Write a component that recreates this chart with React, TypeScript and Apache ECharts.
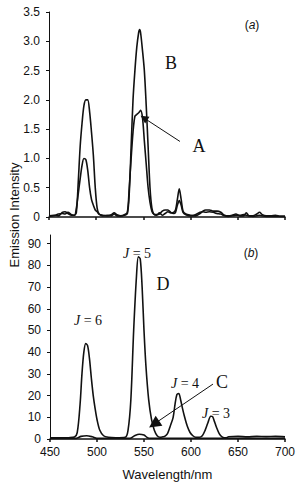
import React, { useEffect, useRef } from "react";
import * as echarts from "echarts";

// ---- Panel (a) data ----
const topWavelength = [450,455,460,464,467,470,474,477,479,481,483,485,487,489,491,493,495,497,499,501,503,507,512,516,519,522,526,530,533,535,537,539,541,543,545,546,547,549,551,553,555,557,559,561,564,567,570,573,576,579,582,584,586,588,590,592,595,600,605,610,613,616,620,624,628,632,636,640,644,648,652,656,659,662,666,670,673,676,680,685,690,695,700];
const curveB = [0.02,0.03,0.02,0.08,0.09,0.06,0.03,0.03,0.08,0.6,1.2,1.6,1.9,2.0,2.0,1.8,1.45,1.05,0.5,0.15,0.05,0.03,0.02,0.04,0.07,0.04,0.02,0.03,0.06,0.4,1.2,2.0,2.5,2.9,3.15,3.2,3.15,2.85,2.5,1.9,1.2,0.5,0.15,0.05,0.03,0.07,0.03,0.06,0.09,0.07,0.08,0.12,0.3,0.48,0.3,0.1,0.05,0.03,0.02,0.06,0.1,0.12,0.12,0.1,0.1,0.08,0.03,0.02,0.03,0.05,0.02,0.02,0.07,0.02,0.02,0.05,0.08,0.04,0.02,0.02,0.03,0.01,0.01];
const curveA = [0.01,0.02,0.05,0.06,0.05,0.08,0.04,0.03,0.15,0.4,0.65,0.88,1.0,0.98,0.8,0.5,0.3,0.2,0.12,0.09,0.05,0.02,0.03,0.02,0.05,0.02,0.02,0.04,0.08,0.5,1.0,1.45,1.72,1.75,1.78,1.8,1.82,1.7,1.3,0.9,0.5,0.25,0.1,0.05,0.04,0.05,0.1,0.12,0.12,0.08,0.06,0.08,0.2,0.28,0.2,0.08,0.04,0.02,0.04,0.08,0.09,0.08,0.09,0.08,0.06,0.05,0.02,0.01,0.02,0.03,0.03,0.04,0.03,0.02,0.01,0.02,0.03,0.02,0.01,0.01,0.01,0.01,0.01];
const topTicks = [0, 0.5, 1.0, 1.5, 2.0, 2.5, 3.0, 3.5];

// ---- Panel (b) data ----
const dWavelength = [450,460,470,476,479,482,484,486,488,490,492,494,496,498,500,503,507,512,520,530,533,536,539,542,544,546,548,550,552,555,558,561,564,567,570,572,575,578,581,583,585,587,589,591,593,596,599,602,605,609,612,615,618,621,623,625,627,630,633,637,640,650,660,670,680,690,700];
const dIntensity = [0.5,0.5,0.6,0.9,3,16,30,40,44,43,37,28,20,14,9,4,1.5,0.8,0.6,0.8,4,18,50,75,84,83,70,50,34,18,9,4,1.5,0.8,1,1.2,2.5,6,10,16,20.5,21,18,14,10.5,6,3,1.5,0.8,0.8,1.5,4,7.5,10.5,10.3,8,5.5,2.5,1,0.5,1,1.2,1,1.2,1.1,1.2,1];
const cWavelength = [450,478,483,489,495,500,535,540,545,550,555,700];
const cIntensity = [0.3,0.3,1.2,1.5,1.0,0.3,0.3,1.5,2.2,1.8,0.4,0.3];
const bottomTicks = [0, 10, 20, 30, 40, 50, 60, 70, 80, 90];

const pairs = (xs: number[], ys: number[]) => xs.map((x, i) => [x, ys[i]]);

export default function App() {
  const ref = useRef<HTMLDivElement>(null);
  useEffect(() => {
    if (!ref.current) return;
    const chart = echarts.init(ref.current, null, { renderer: "svg" });
    const sans = "Liberation Sans";
    const serif = "Liberation Serif";
    const ink = "#111";
    const lineStyle = { color: ink, width: 1.6 };
    const xAxisBase = {
      type: "value" as const,
      min: 450,
      max: 700,
      interval: 50,
      splitLine: { show: false },
      axisLine: { lineStyle: { color: ink, width: 1.5 } },
      axisTick: { show: true, length: 3, lineStyle: { color: ink, width: 1.5 } },
    };
    const yAxisBase = {
      type: "value" as const,
      splitLine: { show: false },
      axisLine: { show: true, lineStyle: { color: ink, width: 1 } },
      axisTick: { show: true, length: 3, lineStyle: { color: ink } },
      axisLabel: { color: ink, fontFamily: sans, fontSize: 12, margin: 9 },
    };
    const txt = (x: number, y: number, text: string, font: string) => ({
      type: "text",
      x,
      y,
      style: { text, font, fill: ink, align: "center", verticalAlign: "middle" },
    });
    const jRich = {
      rich: {
        j: { fontFamily: serif, fontStyle: "italic", fontSize: 14, color: ink },
        n: { fontFamily: serif, fontSize: 14, color: ink },
      },
    };
    const abRich = {
      rich: {
        n: { fontFamily: sans, fontSize: 12, color: ink },
        i: { fontFamily: sans, fontSize: 12, fontStyle: "italic", color: ink },
      },
    };
    const jText = (x: number, y: number, n: number) => ({
      type: "text",
      x,
      y,
      style: { text: `{j|J}{n| = ${n}}`, align: "center", verticalAlign: "middle", fill: ink, ...jRich },
    });
    chart.setOption({
      animation: false,
      grid: [
        { left: 49, top: 12, width: 236, height: 205 },
        { left: 50, top: 235, width: 235, height: 204 },
      ],
      xAxis: [
        { ...xAxisBase, gridIndex: 0, axisLabel: { show: false } },
        {
          ...xAxisBase,
          gridIndex: 1,
          axisLabel: { color: ink, fontFamily: sans, fontSize: 12, margin: 7 },
          name: "Wavelength/nm",
          nameLocation: "middle",
          nameGap: 29,
          nameTextStyle: { color: ink, fontFamily: sans, fontSize: 13 },
        },
      ],
      yAxis: [
        {
          ...yAxisBase,
          gridIndex: 0,
          min: 0,
          max: 3.5,
          interval: 0.5,
          axisLabel: {
            ...yAxisBase.axisLabel,
            customValues: topTicks,
            formatter: (v: number) => (v === 0 ? "0" : v.toFixed(1)),
          },
          axisTick: { ...yAxisBase.axisTick, customValues: topTicks },
        },
        {
          ...yAxisBase,
          gridIndex: 1,
          min: 0,
          max: 94,
          interval: 10,
          axisLabel: { ...yAxisBase.axisLabel, customValues: bottomTicks },
          axisTick: { ...yAxisBase.axisTick, customValues: bottomTicks },
        },
      ],
      series: [
        {
          name: "B",
          type: "line",
          xAxisIndex: 0,
          yAxisIndex: 0,
          data: pairs(topWavelength, curveB),
          showSymbol: false,
          smooth: 0.3,
          lineStyle,
          silent: true,
        },
        {
          name: "A",
          type: "line",
          xAxisIndex: 0,
          yAxisIndex: 0,
          data: pairs(topWavelength, curveA),
          showSymbol: false,
          smooth: 0.3,
          lineStyle,
          silent: true,
          markLine: {
            silent: true,
            symbol: ["none", "triangle"],
            symbolSize: 8,
            label: { show: false },
            lineStyle: { color: ink, width: 1, type: "solid" },
            data: [[{ coord: [588.7, 1.29] }, { coord: [550.6, 1.69] }]],
          },
        },
        {
          name: "D",
          type: "line",
          xAxisIndex: 1,
          yAxisIndex: 1,
          data: pairs(dWavelength, dIntensity),
          showSymbol: false,
          smooth: 0.3,
          lineStyle,
          silent: true,
        },
        {
          name: "C",
          type: "line",
          xAxisIndex: 1,
          yAxisIndex: 1,
          data: pairs(cWavelength, cIntensity),
          showSymbol: false,
          smooth: 0.3,
          lineStyle,
          silent: true,
          markLine: {
            silent: true,
            symbol: ["none", "triangle"],
            symbolSize: 12,
            label: { show: false },
            lineStyle: { color: ink, width: 1, type: "solid" },
            data: [[{ coord: [623.4, 25.3] }, { coord: [560.7, 6.9] }]],
          },
        },
      ],
      graphic: [
        { type: "text", x: 252, y: 25, style: { text: "{n|(}{i|a}{n|)}", fill: ink, align: "center", verticalAlign: "middle", ...abRich } },
        { type: "text", x: 251, y: 253, style: { text: "{n|(}{i|b}{n|)}", fill: ink, align: "center", verticalAlign: "middle", ...abRich } },
        txt(171, 63, "B", `18px "${serif}"`),
        txt(199, 146, "A", `18px "${serif}"`),
        txt(163, 284, "D", `18px "${serif}"`),
        txt(222, 382, "C", `18px "${serif}"`),
        jText(137, 253, 5),
        jText(88, 320, 6),
        jText(185, 383, 4),
        jText(216, 413, 3),
        {
          type: "text",
          x: 14,
          y: 215,
          rotation: Math.PI / 2,
          style: { text: "Emission Intensity", font: `13px "${sans}"`, fill: ink, align: "center", verticalAlign: "middle" },
        },
      ],
    });
    return () => chart.dispose();
  }, []);
  return <div ref={ref} style={{ width: 306, height: 488, position: "absolute", left: 0, top: 0 }} />;
}
